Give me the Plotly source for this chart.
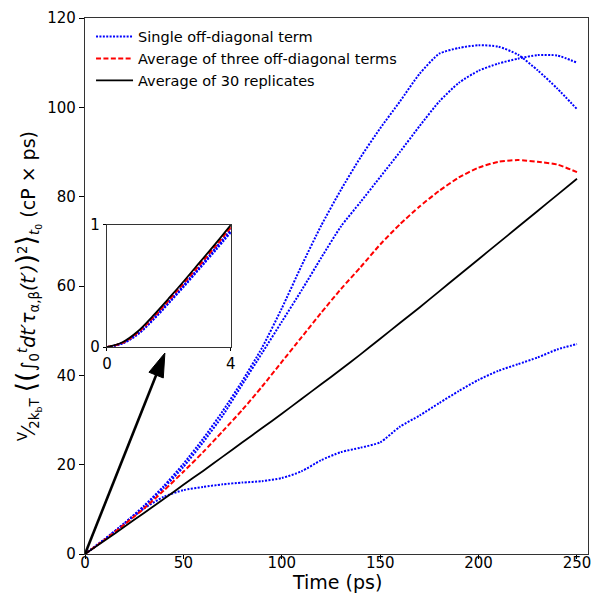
import plotly.graph_objects as go

# Time axis (ps)
time_ps = [0, 10, 20, 30, 40, 50, 60, 70, 80, 90, 100, 110, 120, 130, 140,
           150, 160, 170, 180, 190, 200, 210, 220, 230, 240, 250]

# Three single off-diagonal terms
single_a = [0, 3.3, 6.9, 10.8, 15.2, 20.2, 25.8, 32.0, 38.8, 46.2, 55.0, 64.5,
            73.5, 81.5, 88.8, 95.3, 101.3, 107.5, 112.0, 113.3, 113.9, 113.6,
            111.8, 108.3, 104.2, 99.6]
single_b = [0, 3.3, 6.8, 10.6, 14.8, 19.5, 25.0, 31.0, 38.0, 45.0, 52.0, 59.0,
            66.3, 73.3, 78.8, 84.4, 90.0, 95.8, 101.3, 105.5, 108.2, 109.8,
            110.9, 111.7, 111.6, 110.0]
single_c = [0, 3.3, 6.8, 10.2, 12.8, 14.3, 15.0, 15.6, 16.0, 16.3, 17.0, 18.5,
            21.0, 22.8, 23.8, 25.0, 28.5, 31.0, 33.8, 36.5, 39.0, 41.0, 42.5,
            44.0, 45.8, 47.0]
# Average of the three off-diagonal terms
avg_three = [0, 3.2, 6.6, 10.2, 14.2, 18.4, 22.8, 27.5, 32.3, 37.5, 43.0, 48.5,
             54.0, 59.3, 64.2, 69.3, 73.8, 77.8, 81.3, 84.3, 86.5, 87.8, 88.2,
             87.8, 87.2, 85.5]
# Average over 30 replicates
avg_replicates = [0, 3.0, 6.1, 9.2, 12.3, 15.5, 18.6, 21.8, 25.0, 28.2, 31.4,
                  34.7, 38.0, 41.3, 44.7, 48.2, 51.7, 55.2, 58.8, 62.4, 66.0,
                  69.6, 73.2, 76.8, 80.4, 84.0]

# Short-time detail (first 4 ps)
time_short = [0, 0.5, 1.0, 1.5, 2.0, 2.5, 3.0, 3.5, 4.0]
short_a = [0, 0.03, 0.11, 0.23, 0.365, 0.505, 0.65, 0.80, 0.95]
short_b = [0, 0.03, 0.105, 0.225, 0.36, 0.50, 0.645, 0.79, 0.94]
short_c = [0, 0.035, 0.115, 0.24, 0.375, 0.515, 0.66, 0.81, 0.965]
short_avg = [0, 0.035, 0.12, 0.245, 0.385, 0.53, 0.675, 0.825, 0.98]
short_rep = [0, 0.04, 0.13, 0.26, 0.40, 0.545, 0.695, 0.845, 1.0]

# Pointer from the origin towards the inset
arrow_t = [0, 40.6]
arrow_v = [0, 45.0]

x_ticks = [0, 50, 100, 150, 200, 250]
y_ticks = [0, 20, 40, 60, 80, 100, 120]

BLUE = "#0000ff"
RED = "#ff0000"
BLACK = "#000000"
DOT = "2px,1.4px"
DASH = "5px,2.4px"

fig = go.Figure()

legend_names = ["Single off-diagonal term", None, None]
for series, name in zip([single_a, single_b, single_c], legend_names):
    fig.add_trace(go.Scatter(
        x=time_ps, y=series, mode="lines",
        line=dict(color=BLUE, width=2, dash=DOT, shape="spline", smoothing=0.6),
        name=name or "Single off-diagonal term",
        showlegend=name is not None))
fig.add_trace(go.Scatter(
    x=time_ps, y=avg_three, mode="lines",
    line=dict(color=RED, width=2, dash=DASH, shape="spline", smoothing=0.6),
    name="Average of three off-diagonal terms"))
fig.add_trace(go.Scatter(
    x=time_ps, y=avg_replicates, mode="lines",
    line=dict(color=BLACK, width=1.8, shape="spline", smoothing=0.6),
    name="Average of 30 replicates"))

# Arrow pointing at the inset
fig.add_trace(go.Scatter(
    x=arrow_t, y=arrow_v, mode="lines+markers",
    line=dict(color=BLACK, width=2.6),
    marker=dict(symbol="arrow", size=[0, 25], angleref="previous",
                color=BLACK, opacity=1, line=dict(width=1, color=BLACK)),
    opacity=1, showlegend=False, hoverinfo="skip"))

# Inset: first 4 ps
for series in [short_a, short_b, short_c]:
    fig.add_trace(go.Scatter(
        x=time_short, y=series, mode="lines", xaxis="x2", yaxis="y2",
        line=dict(color=BLUE, width=2, dash=DOT, shape="spline"),
        showlegend=False))
fig.add_trace(go.Scatter(
    x=time_short, y=short_avg, mode="lines", xaxis="x2", yaxis="y2",
    line=dict(color=RED, width=2, dash=DASH, shape="spline"), showlegend=False))
fig.add_trace(go.Scatter(
    x=time_short, y=short_rep, mode="lines", xaxis="x2", yaxis="y2",
    line=dict(color=BLACK, width=1.8, shape="spline"), showlegend=False))

FONT = "DejaVu Sans"
big = '<span style="font-size:27px">'
ytitle = (
    '<sup>V</sup>⁄<sub>2k<sub>b</sub>T</sub> '
    + big + '⟨(</span>'
    + '∫<sub>0</sub><sup><i>t</i></sup><i>dt′τ</i><sub>α,β</sub><i>(t′)</i>'
    + big + ')</span><sup>2</sup>'
    + big + '⟩</span><sub><i>t</i><sub>0</sub></sub> (cP × ps)'
)

axis_common = dict(ticks="outside", tickcolor="black", showline=True,
                   linecolor="#333", linewidth=1.3, mirror=True,
                   showgrid=False, zeroline=False, automargin=False)

fig.update_layout(
    width=594, height=593,
    margin=dict(l=85, r=6, t=18, b=39),
    paper_bgcolor="white", plot_bgcolor="white",
    font=dict(family=FONT, size=15, color="black"),
    showlegend=True,
    legend=dict(x=0.012, y=0.995, xanchor="left", yanchor="top",
                bgcolor="rgba(0,0,0,0)", font=dict(size=14.5),
                itemwidth=37, tracegroupgap=0),
    xaxis=dict(range=[0, 255.6], tickvals=x_ticks, ticklen=4, tickwidth=1,
               tickfont=dict(size=15), ticklabelstandoff=-9, **axis_common),
    yaxis=dict(range=[0, 120], tickvals=y_ticks, ticklen=5, tickwidth=1,
               tickfont=dict(size=15),
               title=dict(text=ytitle, font=dict(size=19), standoff=6),
               **axis_common),
    xaxis2=dict(domain=[0.0437, 0.290], anchor="y2", range=[0, 4],
                tickvals=[0, 4], ticklen=3, tickfont=dict(size=15),
                **axis_common),
    yaxis2=dict(domain=[0.386, 0.614], anchor="x2", range=[0, 1],
                tickvals=[0, 1], ticklen=3, tickfont=dict(size=15),
                **axis_common),
    annotations=[dict(text="Time (ps)", xref="paper", yref="paper",
                      x=0.5, y=-0.052, xanchor="center", yanchor="middle",
                      showarrow=False, font=dict(size=19), borderpad=0)],
)

fig.write_html("out.html", config={"displayModeBar": False})
